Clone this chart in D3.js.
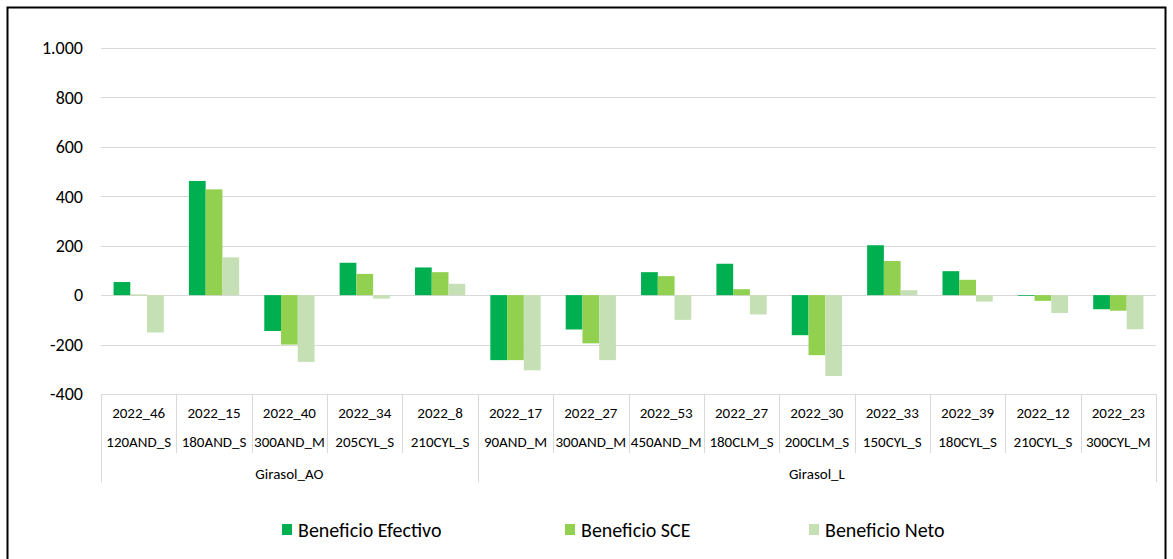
<!DOCTYPE html>
<html>
<head>
<meta charset="utf-8">
<script src="https://cdn.jsdelivr.net/npm/d3@7"></script>
<style>
  body { margin: 0; background: #fff; }
  svg text { font-family: Carlito, Lato, sans-serif; fill: #000; }
</style>
</head>
<body>
<svg id="chart" width="1173" height="559"></svg>
<script>
'use strict';

var codes = ['2022_46', '2022_15', '2022_40', '2022_34', '2022_8', '2022_17', '2022_27',
  '2022_53', '2022_27', '2022_30', '2022_33', '2022_39', '2022_12', '2022_23'];
var names = ['120AND_S', '180AND_S', '300AND_M', '205CYL_S', '210CYL_S', '90AND_M', '300AND_M',
  '450AND_M', '180CLM_S', '200CLM_S', '150CYL_S', '180CYL_S', '210CYL_S', '300CYL_M'];
var groups = [{ name: 'Girasol_AO', from: 0, to: 4 }, { name: 'Girasol_L', from: 5, to: 13 }];

var seriesNames = ['Beneficio Efectivo', 'Beneficio SCE', 'Beneficio Neto'];
var efectivo = [53, 462, -145, 131, 112, -263, -139, 93, 127, -162, 202, 97, -3, -57];
var sce = [2, 428, -200, 86, 93, -263, -195, 77, 24, -243, 138, 62, -23, -63];
var neto = [-151, 153, -270, -14, 46, -304, -263, -100, -78, -327, 20, -26, -72, -138];
var yTicks = [-400, -200, 0, 200, 400, 600, 800, 1000];

var colors = ['#00B050', '#92D050', '#C5E0B4'];
var values = [efectivo, sce, neto];

var svg = d3.select('#chart');
var margin = { left: 101, right: 1156, top: 48, bottom: 394 };

// frame
svg.append('rect')
  .attr('x', 7.5).attr('y', 7.5)
  .attr('width', 1158).attr('height', 570)
  .attr('fill', 'none').attr('stroke', '#000').attr('stroke-width', 2);

var x0 = d3.scaleBand()
  .domain(d3.range(codes.length))
  .range([margin.left, margin.right])
  .padding(0);

var x1 = d3.scaleBand()
  .domain(d3.range(seriesNames.length))
  .range([0, x0.bandwidth()])
  .paddingInner(0)
  .paddingOuter(0.75);

var y = d3.scaleLinear()
  .domain([-400, 1000])
  .range([margin.bottom, margin.top]);

var locale = d3.formatLocale({ decimal: ',', thousands: '.', grouping: [3], currency: ['', '€'], minus: '-' });

// gridlines
svg.append('g')
  .selectAll('line')
  .data(yTicks)
  .join('line')
  .attr('x1', margin.left).attr('x2', margin.right)
  .attr('y1', function (d) { return Math.round(y(d)) + 0.5; })
  .attr('y2', function (d) { return Math.round(y(d)) + 0.5; })
  .attr('stroke', '#d9d9d9').attr('stroke-width', 1);

// y axis labels
var yAxis = svg.append('g')
  .attr('transform', 'translate(' + (margin.left - 18) + ',0)')
  .call(d3.axisLeft(y).tickValues(yTicks).tickFormat(locale.format(',')).tickSize(0).tickPadding(0));
yAxis.select('.domain').remove();
yAxis.selectAll('text').style('font-size', '18px').attr('font-family', null);

// bars
seriesNames.forEach(function (s, si) {
  svg.append('g')
    .selectAll('rect')
    .data(values[si])
    .join('rect')
    .attr('x', function (d, i) { return x0(i) + x1(si); })
    .attr('width', x1.bandwidth())
    .attr('y', function (d) { return y(Math.max(0, d)); })
    .attr('height', function (d) { return Math.abs(y(d) - y(0)); })
    .attr('fill', colors[si]);
});

// category table
var table = svg.append('g');
var bounds = d3.range(codes.length + 1).map(function (i) {
  return i < codes.length ? x0(i) : margin.right;
});
table.selectAll('line.cat')
  .data(bounds)
  .join('line')
  .attr('class', 'cat')
  .attr('x1', function (d) { return Math.round(d) + 0.5; })
  .attr('x2', function (d) { return Math.round(d) + 0.5; })
  .attr('y1', margin.bottom)
  .attr('y2', function (d, i) {
    var isGroupEdge = i === 0 || i === codes.length || groups.some(function (g) { return g.from === i; });
    return isGroupEdge ? 482 : 453;
  })
  .attr('stroke', '#d9d9d9');

table.selectAll('text.code')
  .data(codes)
  .join('text')
  .attr('class', 'code')
  .attr('x', function (d, i) { return x0(i) + x0.bandwidth() / 2; })
  .attr('y', 418)
  .attr('text-anchor', 'middle')
  .style('font-size', '15px')
  .text(function (d) { return d; });

table.selectAll('text.name')
  .data(names)
  .join('text')
  .attr('class', 'name')
  .attr('x', function (d, i) { return x0(i) + x0.bandwidth() / 2; })
  .attr('y', 447)
  .attr('text-anchor', 'middle')
  .style('font-size', '15px')
  .text(function (d) { return d; });

table.selectAll('text.group')
  .data(groups)
  .join('text')
  .attr('class', 'group')
  .attr('x', function (g) { return (x0(g.from) + x0(g.to) + x0.bandwidth()) / 2; })
  .attr('y', 479)
  .attr('text-anchor', 'middle')
  .style('font-size', '15px')
  .text(function (g) { return g.name; });

// legend
var legendX = [282, 565, 809];
var legend = svg.append('g')
  .selectAll('g')
  .data(seriesNames)
  .join('g')
  .attr('transform', function (d, i) { return 'translate(' + legendX[i] + ',524)'; });
legend.append('rect')
  .attr('width', 10).attr('height', 11)
  .attr('fill', function (d, i) { return colors[i]; });
legend.append('text')
  .attr('x', 16).attr('y', 13)
  .style('font-size', '20px')
  .text(function (d) { return d; });
</script>
</body>
</html>
